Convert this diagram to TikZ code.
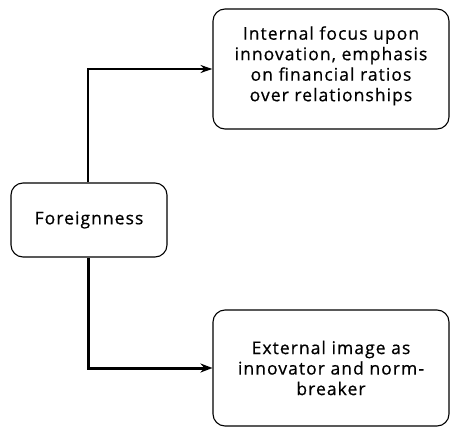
\documentclass[tikz,border=0pt]{standalone}
\usepackage{fontspec}
\setmainfont{Open Sans}[LetterSpace=6,FakeBold=0.6]
\usetikzlibrary{arrows.meta}
\begin{document}
\begin{tikzpicture}[x=1pt,y=-1pt,
  box/.style={draw, line width=1.1pt, rounded corners=12pt, align=center,
    font=\fontsize{17.5}{20.5}\selectfont, inner sep=0pt},
  link/.style={line width=1.3pt, -{Stealth[length=12pt,width=8pt]}},
  boldlink/.style={line width=3pt, -{Stealth[length=12pt,width=9pt]}}]
\useasboundingbox (0,0) rectangle (450,428);
\node[box, minimum width=236pt, minimum height=120pt] (int) at (331,69)
  {Internal focus upon\\innovation, emphasis\\on financial ratios\\over relationships\\[-10pt]\mbox{}};
\node[box, minimum width=156pt, minimum height=74pt] (for) at (89,220) {Foreignness};
\node[box, minimum width=236pt, minimum height=116pt] (ext) at (331,368)
  {External image as\\innovator and norm-\\breaker};
\draw[link] (for.north -| 88,0) |- (int.west);
\draw[boldlink] (for.south -| 88,0) |- (ext.west);
\end{tikzpicture}
\end{document}
